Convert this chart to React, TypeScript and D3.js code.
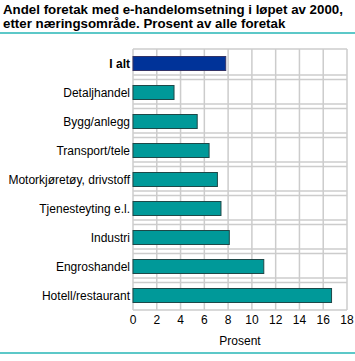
import React from "react";
import * as d3 from "d3";

const categories = [
  "I alt",
  "Detaljhandel",
  "Bygg/anlegg",
  "Transport/tele",
  "Motorkjøretøy, drivstoff",
  "Tjenesteyting e.l.",
  "Industri",
  "Engroshandel",
  "Hotell/restaurant",
];
const values = [7.8, 3.45, 5.4, 6.4, 7.1, 7.4, 8.1, 11.0, 16.7];
const xTicks = [0, 2, 4, 6, 8, 10, 12, 14, 16, 18];
const titleLines = [
  "Andel foretak med e-handelomsetning i løpet av 2000,",
  "etter næringsområde. Prosent av alle foretak",
];
const xLabel = "Prosent";

const W = 355;
const H = 361;
const left = 133;
const right = 347;
const top = 49;
const bottom = 310;
const font = "'Liberation Sans', Arial, sans-serif";

export default function App() {
  const x = d3.scaleLinear().domain([0, 18]).range([left, right]);
  const y = d3.scaleBand().domain(categories).range([top, bottom]).paddingInner(0).paddingOuter(0);
  const bw = y.bandwidth();
  const barH = 14;
  const grid = "#cccccc";
  return (
    <svg width={W} height={H} style={{ position: "absolute", left: 0, top: 0 }}>
      <rect x={0} y={0} width={W} height={H} fill="#fff" />
      {titleLines.map((t, i) => (
        <text key={i} x={3} y={14 + i * 14} fontFamily={font} fontWeight="bold" fontSize={13.3} fill="#000">
          {t}
        </text>
      ))}
      <line x1={0} x2={W} y1={33} y2={33} stroke="#5cc8c8" strokeWidth={2} />
      {xTicks.map((t) => (
        <line key={t} x1={x(t)} x2={x(t)} y1={top} y2={bottom} stroke={grid} strokeWidth={1.5} />
      ))}
      <line x1={left} x2={right} y1={top} y2={top} stroke={grid} strokeWidth={1.5} />
      <line x1={left} x2={right} y1={bottom} y2={bottom} stroke={grid} strokeWidth={1.5} />
      {categories.slice(1).map((c) => {
        const b = y(c) as number;
        return (
          <g key={c}>
            <line x1={left} x2={right} y1={b - 3} y2={b - 3} stroke={grid} strokeWidth={1.5} />
            <line x1={left} x2={right} y1={b + 1.5} y2={b + 1.5} stroke={grid} strokeWidth={1.5} />
          </g>
        );
      })}
      {categories.map((c, i) => {
        const cy = (y(c) as number) + bw / 2;
        return (
          <g key={c}>
            <rect
              x={x(0)}
              y={cy - barH / 2}
              width={x(values[i]) - x(0)}
              height={barH}
              fill={i === 0 ? "#003399" : "#009999"}
              stroke={i === 0 ? "#333366" : "#1e4848"}
              strokeWidth={1}
            />
            <text
              x={left - 3}
              y={cy}
              dy="0.35em"
              textAnchor="end"
              fontFamily={font}
              fontSize={12}
              fontWeight={i === 0 ? "bold" : "normal"}
              fill="#000"
            >
              {c}
            </text>
          </g>
        );
      })}
      {xTicks.map((t) => (
        <text key={t} x={x(t)} y={324} textAnchor="middle" fontFamily={font} fontSize={12} fill="#000">
          {t}
        </text>
      ))}
      <text x={(left + right) / 2} y={345} textAnchor="middle" fontFamily={font} fontSize={12} fill="#000">
        {xLabel}
      </text>
      <line x1={0} x2={W} y1={353} y2={353} stroke="#5cc8c8" strokeWidth={2} />
    </svg>
  );
}
